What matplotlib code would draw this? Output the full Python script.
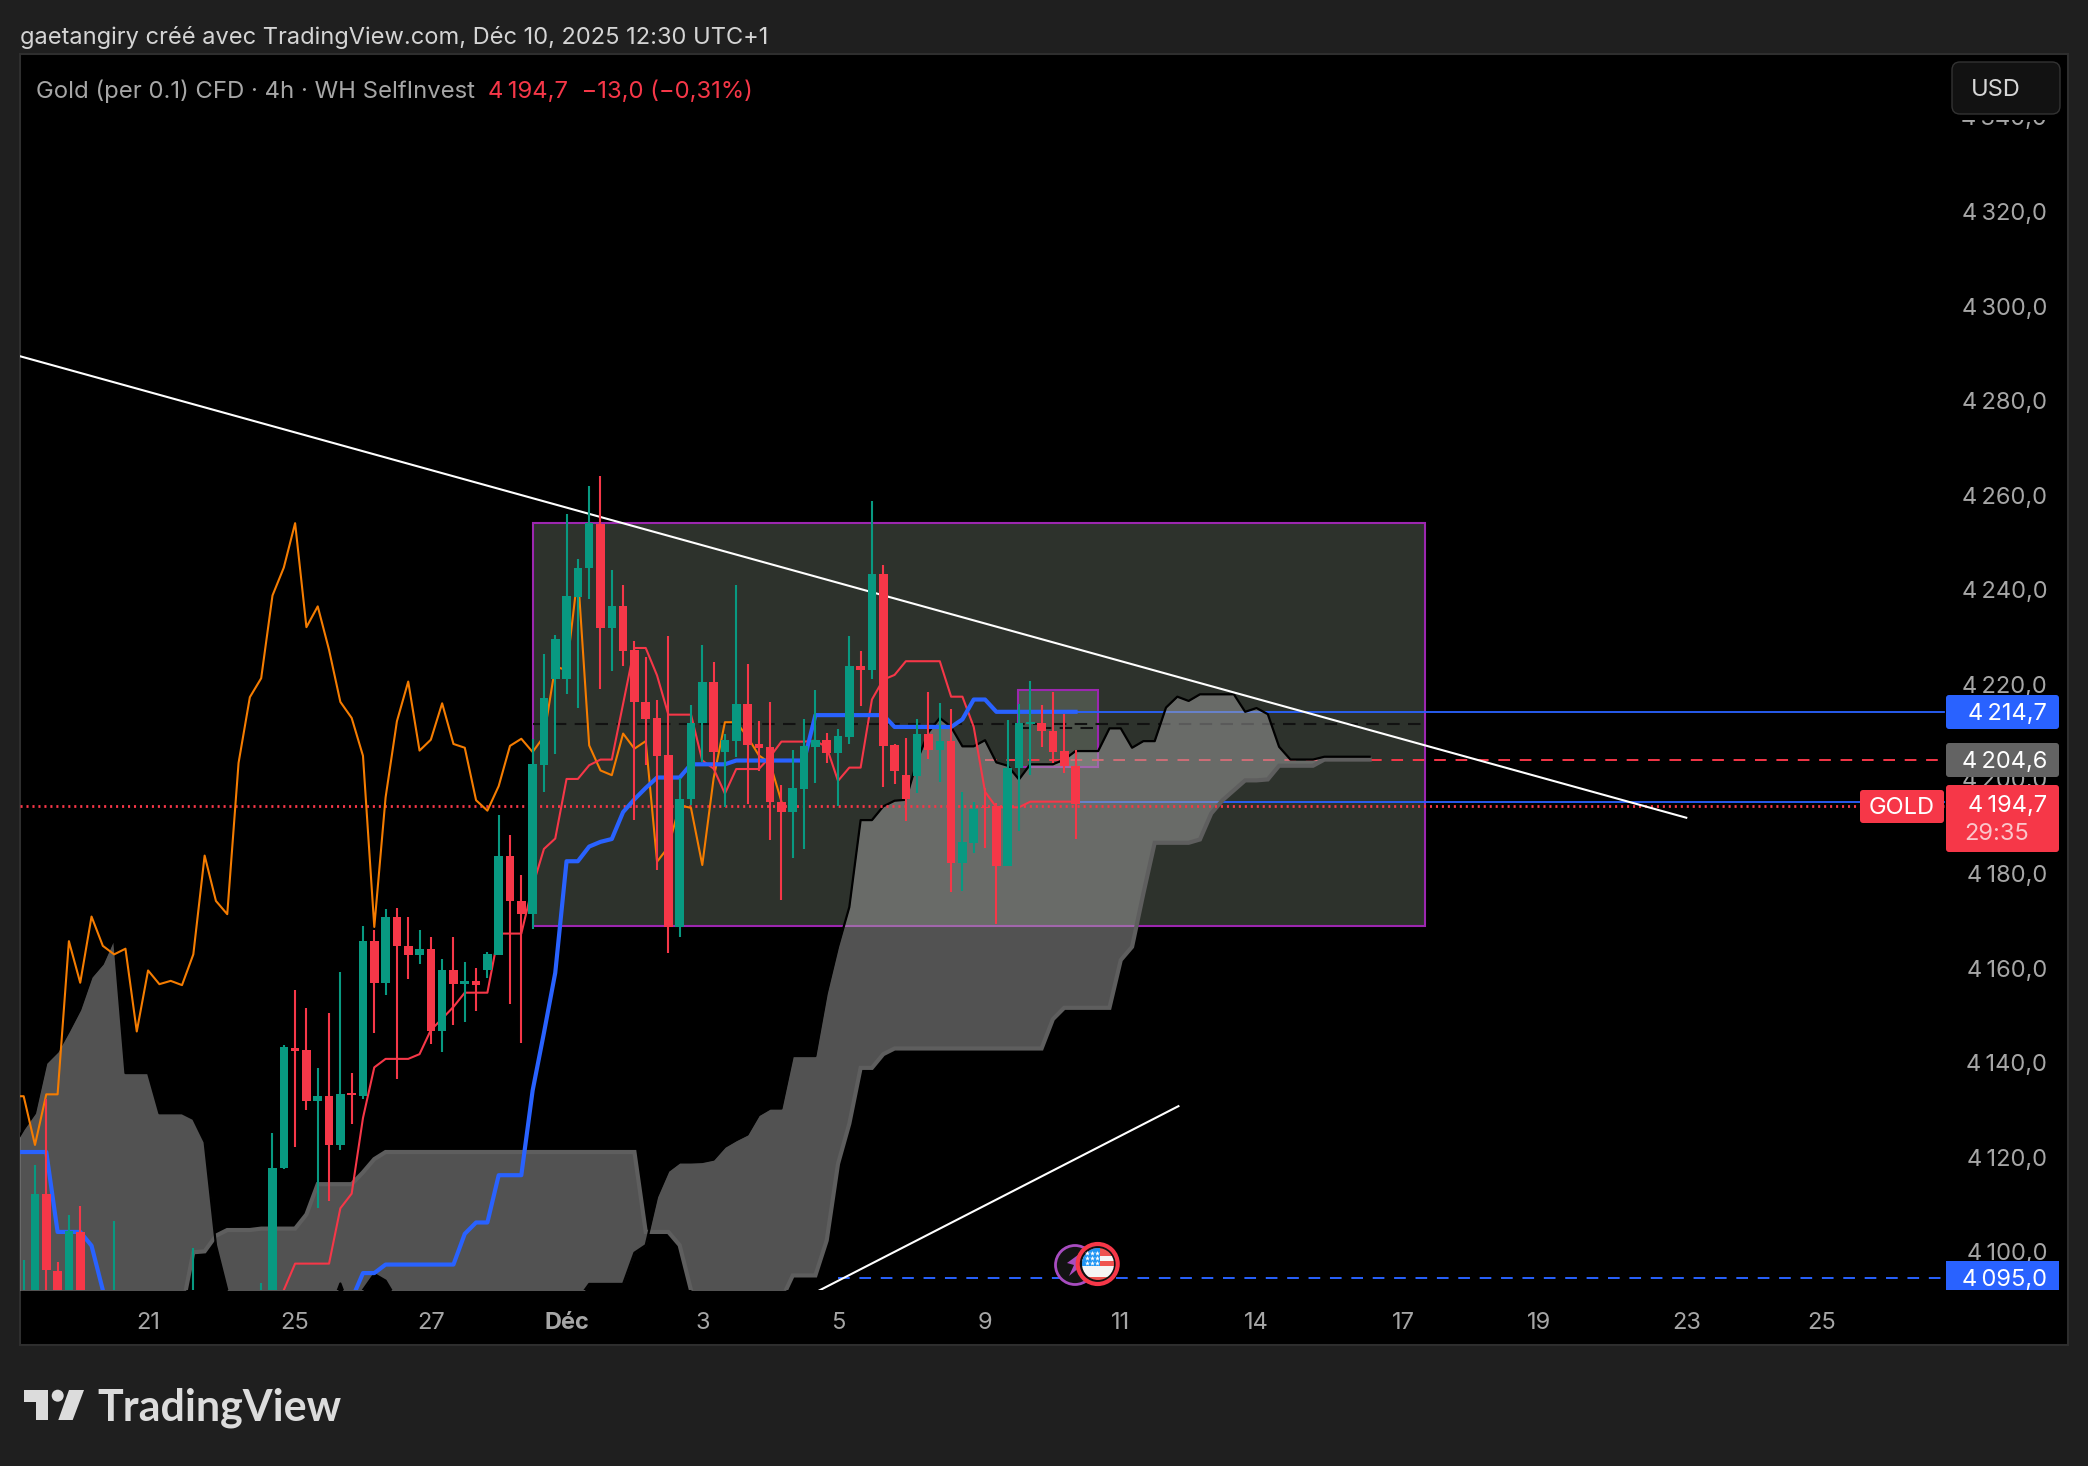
import matplotlib
matplotlib.use("Agg")
import matplotlib.pyplot as plt
import numpy as np
from matplotlib.patches import Circle, FancyBboxPatch, Polygon, Rectangle

plt.rcParams["font.family"] = ["Inter", "DejaVu Sans"]

GREEN = "#089981"
RED = "#f63748"
BLUE = "#2962ff"
PURPLE = "#9c27b0"
ORANGE = "#f57c00"
AXIS_TXT = "#a6a6a6"

# values, px -> price with 4320 at y=212; cal brings them to the tick labels
cal = 0.42

bar_idx = [0, 1, 2, 3, 4, 5, 8, 15, 21] + list(range(22, 94))
bar_open = [4085, 4085, 4112.4, 4096, 4085, 4104.3, 4085, 4085, 4085,
            4085, 4117.9, 4143.3, 4142.7, 4132, 4133, 4122.7, 4133.6, 4133, 4165.8, 4157,
            4171, 4164.8, 4162.8, 4164.2, 4146.7, 4159.6, 4156.7, 4157.4, 4159.6, 4162.8,
            4183.9, 4174.3, 4171.6, 4203.1, 4221.2, 4221.2, 4238.6, 4244.8, 4254.1, 4232.1,
            4236.6, 4227.3, 4216.4, 4212.9, 4205.1, 4168.8, 4195.8, 4212, 4220.5, 4205.8,
            4208.2, 4215.9, 4207.4, 4206.8, 4195.3, 4193.1, 4197.9, 4206.9, 4208.4, 4205.6,
            4209, 4223.9, 4223.1, 4243.4, 4207.2, 4200.9, 4200.7, 4209.6, 4206.3, 4208.1,
            4182.3, 4186.6, 4194.2, 4194.3, 4181.7, 4202.4, 4211.8, 4212, 4210.3, 4206, 4202.8]
bar_close = [4090, 4112.4, 4096.2, 4088, 4104.5, 4085, 4090, 4090, 4090,
             4117.9, 4143.4, 4142.5, 4132, 4133, 4122.7, 4133.4, 4133.2, 4165.8, 4157, 4171,
             4164.8, 4162.8, 4164.2, 4146.7, 4159.6, 4156.7, 4157.4, 4156.5, 4163, 4183.9,
             4174.3, 4171.5, 4203.2, 4217.3, 4229.6, 4238.8, 4244.8, 4254.3, 4232.1, 4236.6,
             4227.1, 4216.4, 4212.7, 4205, 4168.8, 4195.9, 4212, 4220.5, 4205.8, 4208.3,
             4215.9, 4207.2, 4206.7, 4195.3, 4193.1, 4198.1, 4207, 4208.4, 4205.6, 4209.1,
             4223.9, 4223.1, 4243.4, 4207.1, 4201.7, 4195.8, 4209.6, 4206.3, 4208.1, 4182.3,
             4186.7, 4193.8, 4193.9, 4181.7, 4202.5, 4212, 4212.2, 4210.2, 4205.8, 4202.9, 4194.7]
bar_high = [4098.4, 4118.5, 4132.4, 4098, 4107.8, 4109.7, 4106.6, 4100.8, 4093.6,
            4125.2, 4143.8, 4155.5, 4151.6, 4138.9, 4150.6, 4159.2, 4137.9, 4169, 4168.2, 4172.5,
            4172.9, 4171, 4168.2, 4166.7, 4162, 4166.7, 4161.3, 4160.1, 4163.6, 4192.5,
            4188.3, 4179.8, 4208.6, 4226.5, 4230.5, 4256.1, 4246.6, 4262, 4264.1, 4244.3,
            4241.1, 4229.2, 4225.9, 4216.8, 4230.3, 4200.2, 4215.7, 4228.4, 4224.9, 4209.7,
            4241.1, 4224.5, 4212.3, 4216.3, 4198.8, 4206.2, 4212.7, 4218.9, 4209.9, 4210.6,
            4230.3, 4227.1, 4258.9, 4245.3, 4207.5, 4208.7, 4212.7, 4218.5, 4216.1, 4214.8,
            4197.4, 4195.3, 4198.2, 4195.1, 4212.5, 4215.9, 4220.8, 4215.7, 4218.5, 4213.9, 4206.2]
bar_low = [4080, 4080, 4085, 4085, 4080, 4080, 4080, 4080, 4080,
           4080, 4117.6, 4122.3, 4130, 4109.3, 4110.8, 4121.7, 4127.2, 4132.4, 4146.4, 4154.5,
           4136.7, 4157.7, 4161, 4144, 4142.4, 4148, 4148.8, 4151, 4158, 4162.8,
           4152.5, 4144.3, 4168.3, 4197.4, 4205.3, 4218, 4215.1, 4238.1, 4219.1, 4222.9,
           4224, 4191.4, 4203, 4180.9, 4163.3, 4166.7, 4194.6, 4203.7, 4202, 4194.2,
           4204.8, 4194.9, 4201.8, 4187.1, 4174.4, 4183.4, 4185.2, 4199.3, 4203.4, 4194.3,
           4207.4, 4215.6, 4221.2, 4198.4, 4199, 4191.2, 4197.2, 4204.3, 4199.5, 4176.2,
           4176.4, 4184.5, 4185.6, 4169.5, 4181.7, 4189.1, 4201, 4206.9, 4203.4, 4201.4, 4187.5]

# lagging line, starts one bar left of the frame
lag_vals = [4133, 4133, 4122.7, 4133.4, 4133.4, 4165.8, 4157, 4171, 4164.8, 4163, 4164.2,
            4146.7, 4159.6, 4156.7, 4157.4, 4156.5, 4163, 4183.9, 4174.3, 4171.5, 4203.5,
            4217.4, 4221.4, 4238.9, 4244.8, 4254.2, 4232.2, 4236.6, 4227.4, 4216.4, 4213,
            4205, 4168.8, 4196.2, 4212.3, 4220.7, 4206.1, 4208.4, 4216.1, 4207.5, 4206.7,
            4195.6, 4193.4, 4198.6, 4207.1, 4208.6, 4205.8, 4209.1, 4223.9, 4223.1, 4243.4,
            4207.2, 4201.9, 4200.9, 4209.7, 4206.5, 4208.1, 4182.6, 4185.7, 4194.5, 4194,
            4181.9, 4200.2, 4212.1, 4212.1, 4209, 4205.1, 4203.4, 4195.3]

tenkan_vals = [4085, 4092, 4097.6, 4097.6, 4097.6, 4097.6, 4109.3, 4112.4, 4128.4, 4139.1,
               4140.9, 4140.9, 4140.9, 4141.9, 4147, 4149.4, 4151.9, 4154.9, 4154.9, 4154.9,
               4167.4, 4167.4, 4167.4, 4177.4, 4185.3, 4187.5, 4200.1, 4200.1, 4203, 4204.2,
               4204.2, 4216, 4227.8, 4227.8, 4222, 4213.7, 4213.7, 4213.7, 4204, 4202.3,
               4197, 4202.2, 4202.2, 4202.2, 4204.8, 4208, 4208, 4208, 4208.2, 4206.8,
               4199.7, 4202.5, 4202.5, 4216.9, 4221.1, 4222.1, 4225, 4225, 4225, 4225,
               4217.5, 4217.5, 4211.1, 4197.4, 4194.1, 4194.1, 4194.1, 4195.3, 4195.3, 4195.3,
               4195.3, 4195.3]

kijun_vals = [4121.2, 4121.2, 4121.2, 4121.2, 4104.3, 4104.3, 4104.3, 4101.4, 4092] + [4080] * 21 + \
             [4090, 4095.6, 4095.6] + [4097.4] * 7 + [4103.9, 4106.3, 4106.3, 4116.3, 4116.3, 4116.3,
              4134.2, 4146.4, 4159.1, 4182.7, 4182.7, 4185.8, 4186.8, 4187.4, 4193.1, 4195.8,
              4198.2, 4200.4, 4200.4, 4200.4, 4203.2, 4203.2, 4203.2, 4203.2] + [4204] * 7 + \
             [4213.6] * 7 + [4211.1] * 6 + [4212.7, 4216.9, 4216.9] + [4214.3] * 8

span_a = [4122, 4126, 4129.4, 4140, 4142.4, 4146.7, 4151.3, 4158.2, 4161, 4166.4, 4137.9,
          4137.9, 4137.9, 4129.4, 4129.4, 4129.4, 4128.2, 4123.3, 4101.5, 4092] + [4085] * 8 + \
         [4087, 4093.4, 4087, 4092, 4095.4, 4094, 4090] + [4085] * 15 + \
         [4090, 4093.3, 4093.3, 4093.3, 4093.3, 4099.9, 4101.5, 4111.7, 4117.2, 4119, 4119,
          4119.1, 4119.6, 4122.3, 4123.7, 4124.9, 4129, 4130.4, 4130.4, 4141.5, 4141.5, 4141.5,
          4154.7, 4164.6, 4173, 4191.4, 4191.4, 4194.3, 4195.5, 4195.7, 4204, 4210, 4213,
          4211.1, 4207, 4207, 4208.3, 4203.6, 4202.9, 4200, 4203.2, 4203.2, 4203.2, 4204.2,
          4206, 4206, 4206, 4210.8, 4210.8, 4206.7, 4208.1, 4208.1, 4215.2, 4217.5, 4216.6,
          4218, 4218, 4218, 4218, 4214.3, 4215.1, 4213.8, 4206.9, 4204.2, 4204.2, 4204.2,
          4204.8, 4204.8, 4204.8, 4204.8, 4204.8]
span_b = [4080] * 15 + [4088, 4100, 4100.2, 4103.5, 4104.7, 4104.7, 4104.7, 4105, 4105, 4105, 4105,
          4108, 4114.4, 4114.4, 4114.4, 4114.4, 4116.9, 4119.7] + [4121.2] * 23 + \
         [4104.3, 4104.3, 4104.3, 4101.5, 4092] + [4085] * 7 + \
         [4090, 4095.1, 4095.1, 4095.1, 4102.5, 4118.7, 4127.2, 4139, 4139, 4141.9] + [4143.1] * 14 + \
         [4149.3, 4151.7, 4151.7, 4151.7, 4151.7, 4151.7, 4161.8, 4164.6, 4175.9, 4186.6, 4186.6,
          4186.6, 4186.6, 4187.3, 4192.8, 4195.6, 4197.7, 4199.8, 4199.8, 4200, 4202.9, 4202.9,
          4202.9, 4202.9, 4204.2, 4204.2, 4204.2, 4204.2, 4204.2]

range_box = [45.05, 123.9, 4169, 4254.3]
small_box = [87.9, 95.0, 4202.7, 4219]
trend_down = [(-0.32, 147), (4289.5, 4191.9)]
trend_up = [(70.0, 102.1), (4091.5, 4130.9)]

price_ticks = list(range(4100, 4341, 20))
price_labels = [f"{p // 1000}\u2009{p % 1000:03d},0" for p in price_ticks]
time_ticks = [11, 24, 36, 48, 60, 72, 85, 97, 109, 122, 134, 147, 159]
time_labels = ["21", "25", "27", "Déc", "3", "5", "9", "11", "14", "17", "19", "23", "25"]

W, H = 2088, 1466
fig = plt.figure(figsize=(W / 100, H / 100), dpi=100, facecolor="#1f1f1f")


def px_box(x0, y0, x1, y1):
    return [x0 / W, 1 - y1 / H, (x1 - x0) / W, (y1 - y0) / H]


# black pane + time strip with the thin frame
fig.add_artist(Rectangle((20 / W, 1 - 1345 / H), 2048 / W, 1291 / H, transform=fig.transFigure,
                         facecolor="black", edgecolor="#2e2e2e", linewidth=1.5, zorder=-1))

ax = fig.add_axes(px_box(20, 54, 2068, 1290))
ax.set_facecolor("none")
ax.set_xlim(-0.324, 180.75)
ax.set_ylim(4092.44, 4353.84)
for s in ax.spines.values():
    s.set_visible(False)

ax.yaxis.tick_right()
ax.set_yticks(price_ticks, price_labels)
ax.tick_params(axis="y", length=0, pad=-15, labelcolor=AXIS_TXT, labelsize=17)
for t in ax.get_yticklabels():
    t.set_ha("right")
    t.set_va("center")
ax.set_xticks(time_ticks, time_labels)
ax.tick_params(axis="x", length=0, pad=16, labelcolor=AXIS_TXT, labelsize=17)
for t, lab in zip(ax.get_xticklabels(), time_labels):
    if lab == "Déc":
        t.set_fontweight("bold")

# boxes and price lines sit under the cloud, it lightens them
for (x0, x1, y0, y1), fc in [(range_box, "#2d322c"), (small_box, "#4d544b")]:
    ax.add_patch(Rectangle((x0, y0 + cal), x1 - x0, y1 - y0, facecolor=fc, edgecolor=PURPLE, lw=1.5, zorder=1))
ax.plot([range_box[0], range_box[1]], [4212.1, 4212.1], color="#111111", lw=1.5, dashes=(6, 4), zorder=1.2)
ax.plot([small_box[0], small_box[1]], [4211.3, 4211.3], color="#111111", lw=1.5, dashes=(6, 4), zorder=1.2)
ax.plot([93, 169.8], [4214.7, 4214.7], color=BLUE, lw=1.3, zorder=1.3)
ax.plot([93, 169.8], [4195.7, 4195.7], color=BLUE, lw=1.3, zorder=1.3)
ax.plot([85, 169.8], [4204.6, 4204.6], color=RED, lw=1.4, dashes=(6, 5), zorder=1.3)
ax.plot([72, 169.8], [4095, 4095], color=BLUE, lw=1.4, dashes=(6, 5), zorder=1.3)

span_x = np.arange(-1, 120)
a_line = np.array(span_a) + cal
b_line = np.array(span_b) + cal
ax.fill_between(span_x, a_line, b_line, color="#a8a8a8", alpha=0.49, lw=0, zorder=2)
ax.plot(span_x, b_line, color="#5e5e5e", lw=3, solid_joinstyle="miter", zorder=2.1)
ax.plot(span_x, a_line, color="black", lw=1.6, zorder=2.2)

ax.plot([-0.324, 169.8], [4194.7, 4194.7], color=RED, lw=2.0, linestyle=(0, (0.75, 1.4)), zorder=2.3)
ax.plot(trend_down[0], np.array(trend_down[1]) + cal, color="white", lw=1.5, zorder=2.5)
ax.plot(trend_up[0], np.array(trend_up[1]) + cal, color="white", lw=1.5, zorder=2.5)

ax.plot(np.arange(-1, 68), np.array(lag_vals) + cal, color=ORANGE, lw=1.5, zorder=3)
ax.plot(np.arange(22, 94), np.array(tenkan_vals) + cal, color=RED, lw=1.5, zorder=3.1)
ax.plot(np.arange(-1, 94), np.array(kijun_vals) + cal, color=BLUE, lw=3, zorder=3.2)

o = np.array(bar_open) + cal
c = np.array(bar_close) + cal
hi = np.array(bar_high) + cal
lo = np.array(bar_low) + cal
x = np.array(bar_idx)
up = c >= o
for mask, col in [(up, GREEN), (~up, RED)]:
    ax.vlines(x[mask], lo[mask], hi[mask], color=col, lw=1.5, zorder=4)
    ax.bar(x[mask], np.abs(c - o)[mask], bottom=np.minimum(o, c)[mask], width=0.76, color=col, lw=0, zorder=4.1)

# overlay in plain pixels for tags, header, logo, icons
ov = fig.add_axes([0, 0, 1, 1], zorder=5)
ov.set_xlim(0, W)
ov.set_ylim(H, 0)
ov.axis("off")


def tag(x0, y0, x1, y1, fc):
    ov.add_patch(FancyBboxPatch((x0, y0), x1 - x0, y1 - y0, boxstyle="round,pad=0,rounding_size=3",
                                facecolor=fc, edgecolor="none"))


tag(1946, 695, 2059, 729, BLUE)
ov.text(2047, 711, "4\u2009214,7", color="white", fontsize=17, ha="right", va="center_baseline")
tag(1946, 743, 2059, 777, "#636363")
ov.text(2047, 759, "4\u2009204,6", color="white", fontsize=17, ha="right", va="center_baseline")
tag(1946, 785, 2059, 852, RED)
ov.text(2047, 804, "4\u2009194,7", color="white", fontsize=17, ha="right", va="center_baseline")
ov.text(2029, 832, "29:35", color="#fbc6cb", fontsize=17, ha="right", va="center_baseline")
tag(1860, 790, 1944, 823, RED)
ov.text(1902, 806, "GOLD", color="white", fontsize=17, ha="center", va="center_baseline")
ov.add_patch(Rectangle((1946, 1261), 113, 29, facecolor=BLUE, edgecolor="none"))
ov.text(2047, 1277, "4\u2009095,0", color="white", fontsize=17, ha="right", va="center_baseline")

# the legend strip hides the top of the highest price label
ov.add_patch(Rectangle((1952, 62), 108, 58, facecolor="black", edgecolor="none"))
ov.add_patch(FancyBboxPatch((1952, 62), 108, 52, boxstyle="round,pad=0,rounding_size=8",
                            facecolor="#121212", edgecolor="#333333", lw=1))
ov.text(1971, 88, "USD", color="#d6d6d6", fontsize=17, va="center_baseline")

ov.text(20, 35, "gaetangiry créé avec TradingView.com, Déc 10, 2025 12:30 UTC+1", color="#d4d4d4",
        fontsize=17, va="center_baseline")
ov.text(36, 89, "Gold (per 0.1) CFD · 4h · WH SelfInvest", color="#a6a6a6", fontsize=17.2, va="center_baseline")
ov.text(488, 89, "4\u2009194,7  −13,0 (−0,31%)", color=RED, fontsize=17.2, va="center_baseline")

# TradingView logo
ov.add_patch(Polygon([(24, 1390), (48, 1390), (48, 1420), (36, 1420), (36, 1402), (24, 1402)], color="#dcdcdc", lw=0))
ov.add_patch(Circle((57.7, 1395.7), 6, color="#dcdcdc", lw=0))
ov.add_patch(Polygon([(69, 1390), (84, 1390), (72.7, 1420), (58.3, 1420)], color="#dcdcdc", lw=0))
ov.text(97, 1420, "TradingView", color="#dcdcdc", fontsize=31, fontweight="bold", family="Lato", va="baseline")

# event icons on the time scale
ov.add_patch(Circle((1075, 1265), 19.5, facecolor="#131313", edgecolor="#a84cc0", lw=2))
ov.add_patch(Polygon([(1067, 1263), (1082, 1252), (1077, 1262), (1085, 1263), (1069, 1276), (1074, 1265)],
                     color="#a84cc0", lw=0))
ov.add_patch(Circle((1097.7, 1264), 20, facecolor="#101010", edgecolor=RED, lw=3))
clip = Circle((1098, 1264), 16, transform=ov.transData)
for y0, h, col in [(1248, 8, "#ef5350"), (1256, 5, "#f5f5f5"), (1261, 5, "#ef5350"), (1266, 5, "#f5f5f5"),
                   (1271, 6, "#f5f5f5"), (1277, 5, "#ef5350")]:
    r = Rectangle((1080, y0), 36, h, color=col, lw=0)
    ov.add_patch(r)
    r.set_clip_path(clip)
r = Rectangle((1080, 1248), 20, 18, color="#2196f3", lw=0)
ov.add_patch(r)
r.set_clip_path(clip)
for sy in (1253, 1258, 1263):
    ov.scatter([1087, 1092, 1097], [sy] * 3, marker="*", s=14, color="white", lw=0, zorder=3)

fig.savefig("out.png", dpi=100, facecolor=fig.get_facecolor())
